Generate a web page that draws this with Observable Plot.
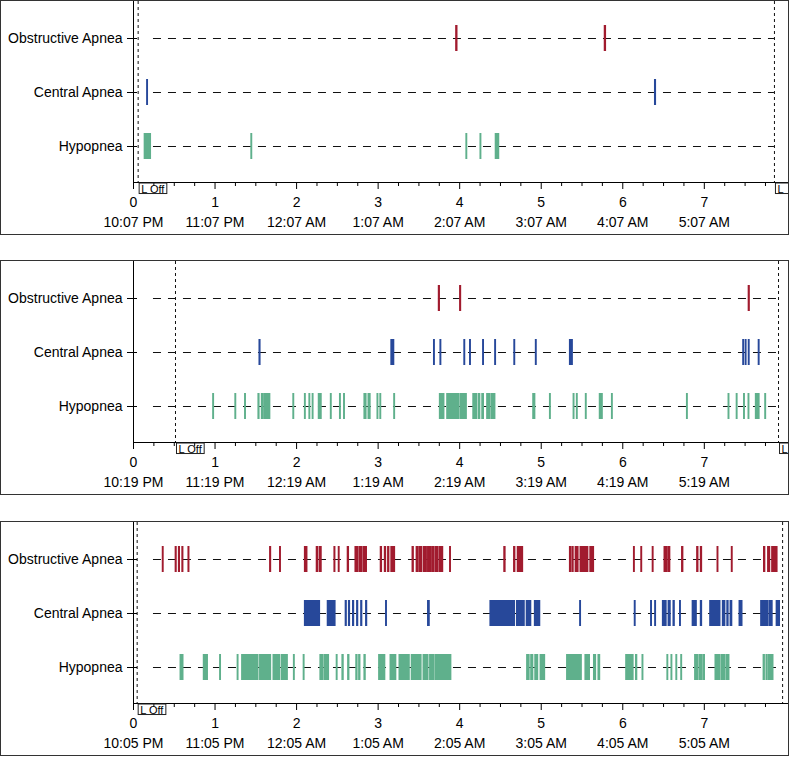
<!DOCTYPE html>
<html><head><meta charset="utf-8">
<script src="https://cdn.jsdelivr.net/npm/d3@7"></script>
<script src="https://cdn.jsdelivr.net/npm/@observablehq/plot@0.6"></script>
<style>
body{margin:0;background:#fff;font-family:"Liberation Sans",Arial,Helvetica,sans-serif;}
.panel{position:absolute;left:0;width:789px;height:235px;border:1px solid #333;box-sizing:border-box;overflow:hidden;background:#fff;}
.panel svg{overflow:hidden;}
</style></head><body>
<div id="p0" class="panel" style="top:0px"></div>
<div id="p1" class="panel" style="top:260px"></div>
<div id="p2" class="panel" style="top:521px"></div>
<script>
const rows = ["Obstructive Apnea", "Central Apnea", "Hypopnea"];
const colors = ["#a11b2e", "#27489a", "#5fb08c"];
const hourTicks = [0, 1, 2, 3, 4, 5, 6, 7];
const minorTicks = [0.25,0.5,0.75,1.25,1.5,1.75,2.25,2.5,2.75,3.25,3.5,3.75,4.25,4.5,4.75,5.25,5.5,5.75,6.25,6.5,6.75,7.25,7.5,7.75];

// Panel 1
const p1Times = ["10:07 PM","11:07 PM","12:07 AM","1:07 AM","2:07 AM","3:07 AM","4:07 AM","5:07 AM"];
const p1Lights = [0.057, 7.86];
const p1Obstructive = [[3.955,3.975],[5.777,5.797]];
const p1Central = [[0.165,0.18],[6.393,6.41]];
const p1Hypopnea = [[0.135,0.217],[1.443,1.458],[4.08,4.095],[4.253,4.268],[4.44,4.487]];

// Panel 2
const p2Times = ["10:19 PM","11:19 PM","12:19 AM","1:19 AM","2:19 AM","3:19 AM","4:19 AM","5:19 AM"];
const p2Lights = [0.515, 7.91];
const p2Obstructive = [[3.742,3.76],[4.003,4.02],[7.542,7.56]];
const p2Central = [[1.543,1.56],[3.16,3.20],[3.683,3.698],[3.762,3.777],[4.055,4.07],[4.125,4.14],[4.285,4.3],[4.433,4.448],[4.668,4.683],[4.932,4.947],[5.35,5.39],[7.475,7.49],[7.505,7.52],[7.543,7.558],[7.665,7.68]];
const p2Hypopnea = [[0.975,0.99],[1.247,1.262],[1.366,1.381],[1.53,1.548],[1.572,1.59],[1.60,1.64],[1.645,1.68],[1.958,1.973],[2.10,2.115],[2.155,2.17],[2.195,2.21],[2.27,2.31],[2.418,2.433],[2.53,2.545],[2.58,2.595],[2.83,2.86],[2.88,2.91],[2.99,3.005],[3.025,3.04],[3.195,3.21],[3.755,3.815],[3.845,4.0],[4.01,4.09],[4.165,4.22],[4.235,4.255],[4.275,4.30],[4.335,4.38],[4.39,4.44],[4.90,4.93],[5.105,5.12],[5.395,5.41],[5.435,5.45],[5.545,5.56],[5.716,5.757],[5.865,5.88],[6.785,6.8],[7.295,7.31],[7.395,7.41],[7.485,7.5],[7.54,7.555],[7.63,7.68],[7.745,7.76]];

// Panel 3
const p3Times = ["10:05 PM","11:05 PM","12:05 AM","1:05 AM","2:05 AM","3:05 AM","4:05 AM","5:05 AM"];
const p3Lights = [0.045, 7.96];
const p3Obstructive = [[0.357,0.372],[0.515,0.532],[0.555,0.572],[0.597,0.614],[0.672,0.688],[1.673,1.69],[1.795,1.81],[2.10,2.135],[2.245,2.27],[2.285,2.31],[2.462,2.478],[2.515,2.53],[2.625,2.645],[2.72,2.76],[2.77,2.81],[2.82,2.865],[3.03,3.05],[3.08,3.10],[3.12,3.14],[3.16,3.21],[3.42,3.44],[3.47,3.50],[3.51,3.545],[3.56,3.60],[3.61,3.65],[3.66,3.69],[3.70,3.74],[3.75,3.80],[3.88,3.895],[4.545,4.565],[4.665,4.685],[4.71,4.78],[5.35,5.37],[5.38,5.40],[5.42,5.46],[5.48,5.53],[5.535,5.58],[5.60,5.65],[6.135,6.15],[6.225,6.24],[6.365,6.38],[6.51,6.545],[6.555,6.585],[6.725,6.745],[6.91,6.93],[6.955,6.975],[7.16,7.175],[7.335,7.35],[7.73,7.75],[7.78,7.81],[7.83,7.90]];
const p3Central = [[2.10,2.29],[2.38,2.48],[2.60,2.618],[2.64,2.658],[2.69,2.708],[2.74,2.758],[2.79,2.808],[2.85,2.868],[3.095,3.11],[3.61,3.635],[4.375,4.68],[4.70,4.80],[4.82,4.88],[4.92,4.99],[5.475,5.49],[6.145,6.16],[6.345,6.36],[6.395,6.41],[6.49,6.54],[6.56,6.59],[6.62,6.64],[6.70,6.715],[6.855,6.91],[6.955,6.975],[7.07,7.20],[7.225,7.26],[7.28,7.30],[7.32,7.345],[7.43,7.47],[7.695,7.79],[7.80,7.84],[7.885,7.93]];
const p3Hypopnea = [[0.575,0.615],[0.86,0.915],[1.06,1.075],[1.275,1.29],[1.33,1.535],[1.55,1.69],[1.715,1.80],[1.815,1.895],[1.965,1.98],[2.085,2.10],[2.29,2.33],[2.34,2.40],[2.49,2.505],[2.56,2.58],[2.63,2.65],[2.73,2.75],[2.765,2.785],[2.83,2.85],[3.01,3.09],[3.15,3.225],[3.26,3.39],[3.41,3.535],[3.555,3.62],[3.635,3.69],[3.70,3.90],[4.825,4.86],[4.875,4.905],[4.925,4.965],[4.99,5.05],[5.315,5.50],[5.54,5.60],[5.645,5.675],[5.70,5.725],[6.04,6.135],[6.16,6.18],[6.24,6.255],[6.545,6.56],[6.595,6.61],[6.655,6.67],[6.715,6.73],[6.885,6.93],[6.94,6.975],[6.985,7.01],[7.135,7.20],[7.21,7.26],[7.27,7.31],[7.725,7.745],[7.76,7.78],[7.79,7.85]];

const panels = [
  {id: "p0", times: p1Times, lights: p1Lights, showOn: true, series: [p1Obstructive, p1Central, p1Hypopnea]},
  {id: "p1", times: p2Times, lights: p2Lights, showOn: true, series: [p2Obstructive, p2Central, p2Hypopnea]},
  {id: "p2", times: p3Times, lights: p3Lights, showOn: false, series: [p3Obstructive, p3Central, p3Hypopnea]}
];

const dashStart = 0.245;
const font = '"Liberation Sans", Arial, Helvetica, sans-serif';

for (const p of panels) {
  const events = [];
  p.series.forEach((arr, i) => arr.forEach(([s, e]) => events.push({type: rows[i], s, e})));
  const lightLabels = [{x: p.lights[0], t: "L Off"}];
  if (p.showOn) lightLabels.push({x: p.lights[1], t: "L"});
  const chart = Plot.plot({
    width: 787,
    height: 233,
    marginLeft: 132,
    marginRight: 1,
    marginTop: 0,
    marginBottom: 52,
    style: {fontFamily: font, fontSize: "14px", color: "#000", background: "#fff"},
    x: {domain: [0, 8.02], axis: null},
    y: {type: "band", domain: rows, paddingInner: 0.527, paddingOuter: 0.418, axis: null},
    color: {domain: rows, range: colors},
    marks: [
      Plot.ruleY(rows, {y: d => d, x1: dashStart, x2: p.lights[1], stroke: "#111", strokeWidth: 1, strokeDasharray: "8,7"}),
      Plot.ruleX(p.lights, {x: d => d, stroke: "#111", strokeWidth: 1, strokeDasharray: "3,3"}),
      Plot.barX(events, {x1: "s", x2: "e", y: "type", fill: "type", insetLeft: -0.35, insetRight: -0.35}),
      Plot.ruleX([0], {stroke: "#000", strokeWidth: 1}),
      Plot.frame({anchor: "bottom", stroke: "#000", strokeWidth: 1}),
      Plot.axisY({tickSize: 10, dx: 4, tickFormat: () => "", stroke: "#000", label: null}),
      Plot.axisY({tickSize: 0, tickPadding: 11, fontSize: 14, fill: "#000", label: null}),
      Plot.axisX({ticks: minorTicks, tickSize: 4, tickFormat: () => "", stroke: "#000", label: null}),
      Plot.axisX({ticks: hourTicks, tickSize: 7, tickFormat: () => "", stroke: "#000", label: null}),
      Plot.text(hourTicks, {x: d => d, frameAnchor: "bottom", dy: 20, lineAnchor: "middle", text: d => String(d), fontSize: 14, fill: "#000"}),
      Plot.text(hourTicks, {x: d => d, frameAnchor: "bottom", dy: 40.5, lineAnchor: "middle", text: d => p.times[d], fontSize: 14, fill: "#000"}),
      Plot.text(lightLabels, {x: "x", text: "t", frameAnchor: "bottom", dy: 6.5, dx: 3, lineAnchor: "middle", textAnchor: "start", fontSize: 11, fill: "#000"})
    ]
  });
  document.getElementById(p.id).appendChild(chart);
  const svg = chart.tagName.toLowerCase() === "svg" ? chart : chart.querySelector("svg");
  svg.querySelectorAll("text").forEach(t => {
    const c = t.textContent;
    if (c === "L Off" || c === "L") {
      const b = t.getBBox();
      const r = document.createElementNS("http://www.w3.org/2000/svg", "rect");
      r.setAttribute("x", b.x - 2);
      r.setAttribute("y", b.y + 0.5);
      r.setAttribute("width", c === "L" ? 20 : b.width + 3.5);
      r.setAttribute("height", b.height - 1.5);
      r.setAttribute("fill", "none");
      r.setAttribute("stroke", "#222");
      r.setAttribute("stroke-width", 1);
      const tr = t.getAttribute("transform");
      if (tr) r.setAttribute("transform", tr);
      t.parentNode.insertBefore(r, t);
    }
  });
}
</script>
</body></html>
